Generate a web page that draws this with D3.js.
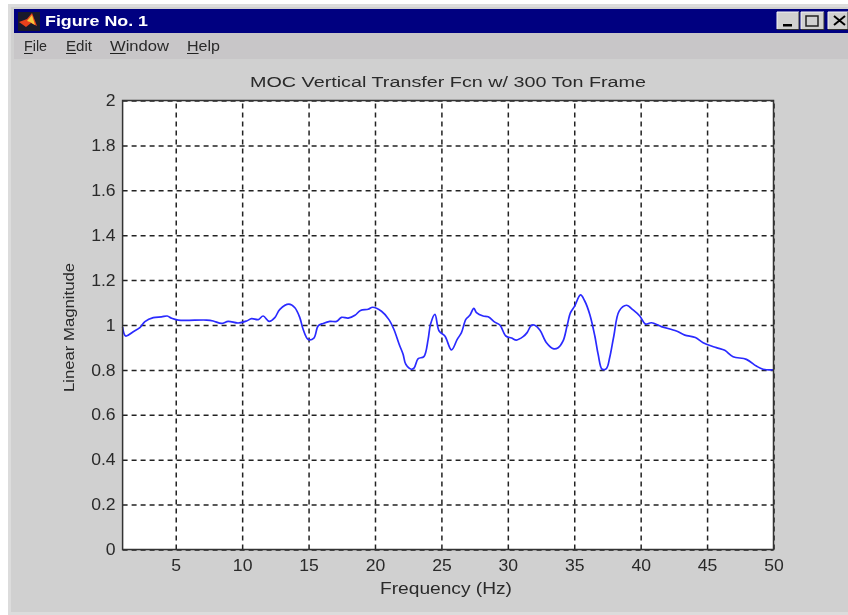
<!DOCTYPE html>
<html>
<head>
<meta charset="utf-8">
<script src="https://cdn.jsdelivr.net/npm/d3@7"></script>
<style>
	html, body { margin: 0; padding: 0; background: #fff; }
	svg { display: block; filter: blur(0.3px); }
	text { font-family: "Liberation Sans", Arial, sans-serif; fill: #2a2a2a; }
	.grid line { stroke: #222; stroke-width: 1.5; stroke-dasharray: 5 4; }
	.axis path { display: none; }
	.axis text { font-size: 16px; }
</style>
</head>
<body>
<svg id="chart" width="848" height="615"></svg>
<script>
const freq = [1, 1.23, 1.8, 2.3, 2.68, 3.31, 3.93, 4.36, 4.69, 5.19, 7.32, 7.82, 8.45, 8.95, 9.7, 10.33, 10.71, 11.21, 11.58, 12.04, 12.46, 12.84, 13.52, 13.97, 14.34, 14.59, 14.97, 15.4, 15.72, 16.1, 16.6, 17.11, 17.48, 17.98, 18.49, 18.91, 19.49, 19.82, 20.49, 21.05, 21.42, 21.82, 22.12, 22.32, 22.75, 22.95, 23.25, 23.68, 24, 24.18, 24.51, 24.83, 25.26, 25.76, 26.19, 26.51, 26.84, 27.14, 27.44, 27.64, 28.14, 28.52, 29.02, 29.4, 29.85, 30.28, 30.65, 31.15, 31.45, 31.78, 32.03, 32.41, 32.91, 33.41, 33.79, 34.16, 34.46, 34.72, 35.04, 35.47, 35.79, 36.17, 36.55, 36.8, 37.1, 37.42, 37.67, 37.98, 38.38, 38.93, 39.43, 39.93, 40.36, 40.81, 41.56, 42.69, 43.32, 44.12, 44.7, 45.7, 46.33, 46.96, 47.96, 48.71, 49.21, 50];
const magnitude = [0.991, 0.951, 0.97, 0.988, 1.015, 1.033, 1.036, 1.04, 1.03, 1.022, 1.022, 1.018, 1.007, 1.016, 1.009, 1.018, 1.028, 1.024, 1.04, 1.016, 1.033, 1.07, 1.093, 1.077, 1.033, 0.981, 0.936, 0.942, 0.996, 1.007, 1.016, 1.016, 1.034, 1.031, 1.043, 1.065, 1.07, 1.079, 1.061, 1.024, 0.981, 0.914, 0.869, 0.825, 0.803, 0.809, 0.85, 0.859, 0.936, 1.003, 1.047, 0.973, 0.951, 0.889, 0.936, 0.966, 1.025, 1.043, 1.074, 1.055, 1.04, 1.037, 1.013, 1, 0.951, 0.942, 0.933, 0.948, 0.966, 0.999, 0.999, 0.978, 0.921, 0.895, 0.899, 0.929, 0.996, 1.055, 1.085, 1.134, 1.107, 1.047, 0.951, 0.869, 0.803, 0.806, 0.855, 0.951, 1.062, 1.088, 1.067, 1.04, 1.004, 1.01, 0.993, 0.973, 0.955, 0.944, 0.921, 0.899, 0.887, 0.859, 0.847, 0.817, 0.803, 0.8];
const xTicks = [5, 10, 15, 20, 25, 30, 35, 40, 45, 50];
const yTicks = [0, 0.2, 0.4, 0.6, 0.8, 1, 1.2, 1.4, 1.6, 1.8, 2];
const menuItems = [["File", 24, 23], ["Edit", 66, 26], ["Window", 110, 59], ["Help", 187, 33]];

const svg = d3.select("#chart");

// the screenshot is stretched sideways, so text gets fitted to a measured width
function fit(sel, width) {
	return sel.attr("textLength", width).attr("lengthAdjust", "spacingAndGlyphs");
}

// window chrome
svg.append("rect").attr("x", 8).attr("y", 4).attr("width", 840).attr("height", 611).attr("fill", "#dcdcdc");
svg.append("rect").attr("x", 11).attr("y", 7).attr("width", 837).attr("height", 605).attr("fill", "#d0d0d0");
svg.append("rect").attr("x", 14).attr("y", 9).attr("width", 834).attr("height", 24).attr("fill", "#000080");
svg.append("rect").attr("x", 14).attr("y", 33).attr("width", 834).attr("height", 26).attr("fill", "#c8c6c8");

svg.append("rect").attr("x", 18).attr("y", 12).attr("width", 22).attr("height", 19).attr("fill", "#1a1a2a");
svg.append("path").attr("d", "M19 22 L27 19 L32 13 L37 26 L31 23 L26 27 Z").attr("fill", "#e8401c");
svg.append("path").attr("d", "M27 21 L32 15 L35 25 L30 22 Z").attr("fill", "#f6c83a");

fit(svg.append("text").attr("x", 45).attr("y", 26)
	.style("font-size", "15px").style("font-weight", "bold").style("fill", "#fff")
	.text("Figure No. 1"), 103);

menuItems.forEach(([label, mx, w]) => {
	const t = fit(svg.append("text").attr("x", mx).attr("y", 51).style("font-size", "14.5px").text(label), w);
	const first = t.node().getSubStringLength(0, 1);
	svg.append("line").attr("x1", mx).attr("x2", mx + first).attr("y1", 53.5).attr("y2", 53.5)
		.attr("stroke", "#222").attr("stroke-width", 1);
});

[[777, 22], [801, 23], [828, 20]].forEach(([bx, bw]) => {
	svg.append("rect").attr("x", bx).attr("y", 12).attr("width", bw).attr("height", 17).attr("fill", "#d0d0d0");
	svg.append("path").attr("d", `M${bx} 29 V12 H${bx + bw}`).attr("fill", "none").attr("stroke", "#f4f4f4").attr("stroke-width", 1);
	svg.append("path").attr("d", `M${bx} 29.5 H${bx + bw} V12`).attr("fill", "none").attr("stroke", "#333").attr("stroke-width", 1);
});
svg.append("rect").attr("x", 783).attr("y", 24).attr("width", 9).attr("height", 2.5).attr("fill", "#000");
svg.append("rect").attr("x", 806).attr("y", 16).attr("width", 12).attr("height", 10).attr("fill", "none").attr("stroke", "#222").attr("stroke-width", 1.5);
svg.append("path").attr("d", "M834 16 L845 25 M845 16 L834 25").attr("stroke", "#000").attr("stroke-width", 2);

// plot
const plotLeft = 122.6, plotRight = 773.5, plotTop = 100.5, plotBottom = 549.5;
const x = d3.scaleLinear().domain([1, 50]).range([plotLeft, plotRight]);
const y = d3.scaleLinear().domain([0, 2]).range([plotBottom, plotTop]);

svg.append("rect").attr("x", plotLeft).attr("y", plotTop).attr("width", plotRight - plotLeft).attr("height", plotBottom - plotTop).attr("fill", "#fff");

const xAxis = svg.append("g").attr("class", "axis grid")
	.attr("transform", `translate(0,${plotBottom})`)
	.call(d3.axisBottom(x).tickValues(xTicks).tickSize(-(plotBottom - plotTop)).tickPadding(10).tickFormat(d => d));
const yAxis = svg.append("g").attr("class", "axis grid")
	.attr("transform", `translate(${plotLeft},0)`)
	.call(d3.axisLeft(y).tickValues(yTicks).tickSize(-(plotRight - plotLeft)).tickPadding(7).tickFormat(d => d));
xAxis.selectAll("text").attr("dy", "0.71em");

[xAxis, yAxis].forEach(axis => axis.selectAll("text").each(function() {
	fit(d3.select(this), this.getComputedTextLength() * 1.1);
}));

svg.append("path")
	.attr("d", d3.line().curve(d3.curveCatmullRom.alpha(0.5)).x((d, i) => x(freq[i])).y(d => y(d))(magnitude))
	.attr("fill", "none")
	.attr("stroke", "#2a2aff")
	.attr("stroke-width", 1.7);

svg.append("rect").attr("x", plotLeft).attr("y", plotTop).attr("width", plotRight - plotLeft).attr("height", plotBottom - plotTop)
	.attr("fill", "none").attr("stroke", "#333").attr("stroke-width", 1.5);

fit(svg.append("text").attr("x", 250).attr("y", 87)
	.style("font-size", "15.5px").text("MOC Vertical Transfer Fcn w/ 300 Ton Frame"), 396);
fit(svg.append("text").attr("x", 380).attr("y", 594)
	.style("font-size", "16px").text("Frequency (Hz)"), 132);
fit(svg.append("text").attr("transform", "translate(74,392) rotate(-90)")
	.style("font-size", "15.5px").text("Linear Magnitude"), 129);
</script>
</body>
</html>
